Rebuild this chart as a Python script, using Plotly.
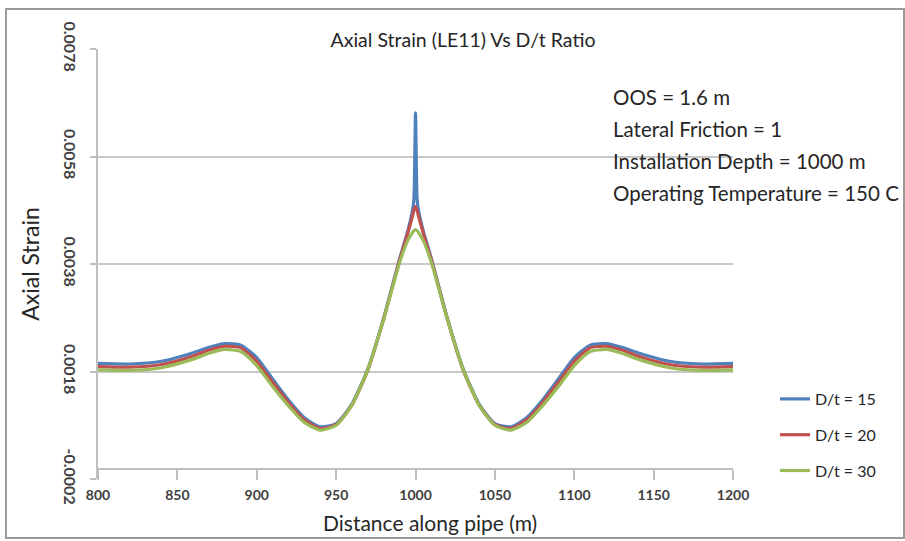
import plotly.graph_objects as go

# ---- data ----
distance = [800, 820, 840, 860, 870, 880, 890, 900, 910, 920, 930, 940, 950, 960, 970, 980,
            990, 995, 998, 999, 1000, 1001, 1002, 1005, 1010, 1020, 1030, 1040, 1050, 1060,
            1070, 1080, 1090, 1100, 1110, 1120, 1130, 1140, 1160, 1180, 1200]

dt15 = [0.00195, 0.00194, 0.00199, 0.00215, 0.00225, 0.00232, 0.00229, 0.00206, 0.00166, 0.00127,
        0.00094, 0.00077, 0.00083, 0.00120, 0.00185, 0.00280, 0.00390, 0.00440, 0.00478, 0.00500,
        0.00661, 0.00500, 0.00478, 0.00440, 0.00390, 0.00280, 0.00185, 0.00120, 0.00083, 0.00077,
        0.00094, 0.00127, 0.00166, 0.00206, 0.00229, 0.00232, 0.00225, 0.00215, 0.00199, 0.00194, 0.00195]

dt20 = [0.00189, 0.00188, 0.00193, 0.00209, 0.00220, 0.00227, 0.00224, 0.00199, 0.00160, 0.00122,
        0.00090, 0.00074, 0.00081, 0.00118, 0.00183, 0.00278, 0.00387, 0.00436, 0.00468, 0.00480,
        0.00487, 0.00480, 0.00468, 0.00436, 0.00387, 0.00278, 0.00183, 0.00118, 0.00081, 0.00074,
        0.00090, 0.00122, 0.00160, 0.00199, 0.00224, 0.00227, 0.00220, 0.00209, 0.00193, 0.00188, 0.00189]

dt30 = [0.00183, 0.00182, 0.00187, 0.00203, 0.00214, 0.00221, 0.00217, 0.00191, 0.00152, 0.00116,
        0.00085, 0.00071, 0.00080, 0.00118, 0.00184, 0.00278, 0.00383, 0.00423, 0.00438, 0.00442,
        0.00444, 0.00442, 0.00438, 0.00423, 0.00383, 0.00278, 0.00184, 0.00118, 0.00080, 0.00071,
        0.00085, 0.00116, 0.00152, 0.00191, 0.00217, 0.00221, 0.00214, 0.00203, 0.00187, 0.00182, 0.00183]

series_names = ["D/t = 15", "D/t = 20", "D/t = 30"]
series_colors = ["#4F81BD", "#C0504D", "#9BBB59"]

y_ticks = [-0.0002, 0.0018, 0.0038, 0.0058, 0.0078]
y_tick_labels = ["-0.0002", "0.0018", "0.0038", "0.0058", "0.0078"]
x_ticks = [800, 850, 900, 950, 1000, 1050, 1100, 1150, 1200]

info_lines = ["OOS = 1.6 m", "Lateral Friction = 1", "Installation Depth = 1000 m",
              "Operating Temperature = 150 C"]

FONT = "Lato"

fig = go.Figure()
for i, (name, vals, col) in enumerate(zip(series_names, [dt15, dt20, dt30], series_colors)):
    fig.add_trace(go.Scatter(
        x=distance, y=vals, name=name, mode="lines",
        line=dict(color=col, width=3.2, shape="spline", smoothing=0.6),
        legendgroup=f"g{i}",
    ))

# plot area: x 98..733, y 49..479 px
L, R, T, B = 98, 733, 49, 479
W, H = 905, 541
pw, ph = R - L, B - T

info_y = [97, 129, 161, 193]
annotations = []
for txt, py in zip(info_lines, info_y):
    annotations.append(dict(
        text=txt, xref="paper", yref="paper",
        x=(611 - L) / pw, y=(B - py) / ph, xanchor="left", yanchor="middle",
        showarrow=False, font=dict(family=FONT, size=20.5, color="#262626"),
    ))
# x axis title
annotations.append(dict(
    text="Distance along pipe (m)", xref="paper", yref="paper",
    x=(430 - L) / pw, y=(B - 522) / ph, xanchor="center", yanchor="middle",
    showarrow=False, font=dict(family=FONT, size=21, color="#262626"),
))

fig.update_layout(
    width=W, height=H,
    margin=dict(l=L, r=W - R, t=T, b=H - B, pad=0),
    paper_bgcolor="white", plot_bgcolor="white",
    title=dict(text="Axial Strain (LE11) Vs D/t Ratio", x=(463 - L) / pw, xref="paper",
               xanchor="center", y=1 - 40 / H, yanchor="middle",
               font=dict(family=FONT, size=19.5, color="#262626")),
    font=dict(family=FONT, color="#404040"),
    showlegend=True,
    legend=dict(x=(775 - L) / pw, y=(B - 382) / ph, xref="paper", yref="paper",
                xanchor="left", yanchor="top", bgcolor="rgba(0,0,0,0)",
                font=dict(family=FONT, size=16, color="#262626"),
                tracegroupgap=12),
    annotations=annotations,
    shapes=[dict(type="rect", xref="paper", yref="paper",
                 x0=(6 - L) / pw, x1=(904 - L) / pw,
                 y0=(B - 538) / ph, y1=(B - 9) / ph,
                 line=dict(color="#9a9a9a", width=2), layer="below")],
)

fig.update_xaxes(
    range=[800, 1200], tickvals=x_ticks, ticktext=[str(v) for v in x_ticks],
    anchor="free", position=(B - 469) / ph,
    showline=True, linecolor="#bfbfbf", linewidth=1.5,
    ticks="outside", ticklen=10, tickcolor="#bfbfbf", tickwidth=1.5,
    showgrid=False, zeroline=False, ticklabelstandoff=3,
    tickfont=dict(family=FONT, size=14, color="#404040", weight="bold"),
)
fig.update_yaxes(
    range=[-0.0002, 0.0078], tickvals=y_ticks, ticktext=y_tick_labels, tickangle=90,
    showline=True, linecolor="#bfbfbf", linewidth=1.5,
    ticks="outside", ticklen=6, tickcolor="#bfbfbf", tickwidth=1.5,
    showgrid=True, gridcolor="#c8c8c8", gridwidth=1.5, zeroline=False,
    ticklabelstandoff=7,
    tickfont=dict(family=FONT, size=16, color="#404040", weight="bold"),
    title=dict(text="Axial Strain", font=dict(family=FONT, size=23, color="#262626"),
               standoff=15),
)

fig.write_html("out.html")
